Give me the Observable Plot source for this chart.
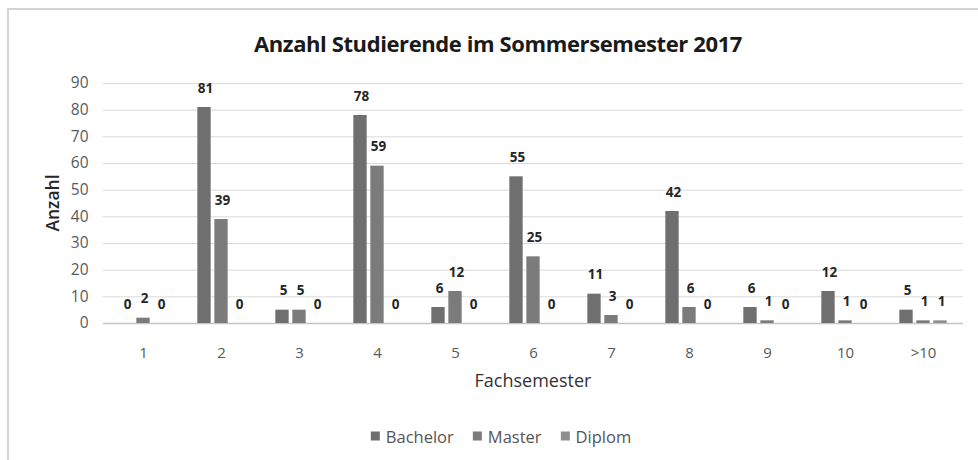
<!DOCTYPE html>
<html>
<head>
<meta charset="utf-8">
<script src="https://cdn.jsdelivr.net/npm/d3@7"></script>
<script src="https://cdn.jsdelivr.net/npm/@observablehq/plot@0.6"></script>
<style>
  html, body { margin: 0; padding: 0; background: #fff; }
  #wrap { position: relative; width: 978px; height: 460px; overflow: hidden; font-family: "Open Sans", sans-serif; }
  #frame { position: absolute; left: 7px; top: 8px; width: 990px; height: 470px; border: 2px solid #d4d4d4; box-sizing: border-box; }
  #title { position: absolute; left: 498px; top: 43px; transform: translate(-50%, -50%); font-size: 22px; letter-spacing: -0.4px; font-weight: bold; color: #1a1a1a; white-space: nowrap; }
  #ylabel { position: absolute; left: 52px; top: 203px; transform: translate(-50%, -50%) rotate(-90deg); font-size: 17.5px; font-weight: 600; color: #262626; white-space: nowrap; }
  #xlabel { position: absolute; left: 533px; top: 380px; transform: translate(-50%, -50%); font-size: 18px; color: #333; white-space: nowrap; }
  #legend { position: absolute; left: 501px; top: 436px; transform: translate(-50%, -50%); font-size: 16.5px; color: #555; white-space: nowrap; display: flex; align-items: center; gap: 19px; }
  #legend span.item { display: flex; align-items: center; }
  #legend span.sw { display: inline-block; width: 9px; height: 9px; margin-right: 6px; }
  #chart { position: absolute; left: 0; top: 0; }
</style>
</head>
<body>
<div id="wrap">
  <div id="frame"></div>
  <div id="chart"></div>
  <div id="title">Anzahl Studierende im Sommersemester 2017</div>
  <div id="ylabel">Anzahl</div>
  <div id="xlabel">Fachsemester</div>
  <div id="legend"></div>
</div>
<script>
const categories = ["1", "2", "3", "4", "5", "6", "7", "8", "9", "10", ">10"];
const bachelor = [0, 81, 5, 78, 6, 55, 11, 42, 6, 12, 5];
const master   = [2, 39, 5, 59, 12, 25, 3, 6, 1, 1, 1];
const diplom   = [0, 0, 0, 0, 0, 0, 0, 0, 0, 0, 1];
const seriesNames = ["Bachelor", "Master", "Diplom"];
const seriesColors = ["#6f6f6f", "#7b7b7b", "#8e8e8e"];
const yTicks = [0, 10, 20, 30, 40, 50, 60, 70, 80, 90];

const W = 978, H = 460;
const mL = 103, mR = 15, mT = 83, mB = 137;
const step = (W - mL - mR) / categories.length;
const barW = 13.5, barStep = 17;

const seriesValues = [bachelor, master, diplom];
const marks = [
  Plot.ruleY(yTicks.filter(d => d > 0), {stroke: "#d9d9d9", strokeWidth: 1}),
  Plot.ruleY([0], {stroke: "#c4c4c4", strokeWidth: 1.5})
];
seriesValues.forEach((vals, i) => {
  const off = (i - 1) * barStep;
  const data = categories.map((c, j) => ({cat: c, value: vals[j]}));
  marks.push(Plot.barY(data, {
    x: "cat", y: "value", fill: seriesColors[i],
    insetLeft: step / 2 + off - barW / 2,
    insetRight: step / 2 - off - barW / 2
  }));
  marks.push(Plot.text(data, {
    x: "cat", y: "value", text: d => String(d.value),
    dx: off + 1, dy: -19, fontWeight: "bold", fontSize: 13.5, fill: "#262626",
    fontFamily: "Open Sans, sans-serif"
  }));
});
marks.push(Plot.axisY({ticks: yTicks, tickSize: 0, tickPadding: 15, label: null, fontSize: 15.5, fill: "#595959", letterSpacing: 1.5}));
marks.push(Plot.axisX({tickSize: 0, tickPadding: 24, label: null, fontSize: 15, fill: "#595959"}));

const chart = Plot.plot({
  width: W, height: H,
  marginLeft: mL, marginRight: mR, marginTop: mT, marginBottom: mB,
  style: {fontFamily: "Open Sans, sans-serif", background: "transparent"},
  x: {domain: categories, padding: 0, label: null},
  y: {domain: [0, 90], label: null},
  marks
});
document.getElementById("chart").appendChild(chart);

const legend = document.getElementById("legend");
seriesNames.forEach((n, i) => {
  const item = document.createElement("span");
  item.className = "item";
  const sw = document.createElement("span");
  sw.className = "sw";
  sw.style.background = seriesColors[i];
  item.appendChild(sw);
  item.appendChild(document.createTextNode(n));
  legend.appendChild(item);
});
</script>
</body>
</html>
